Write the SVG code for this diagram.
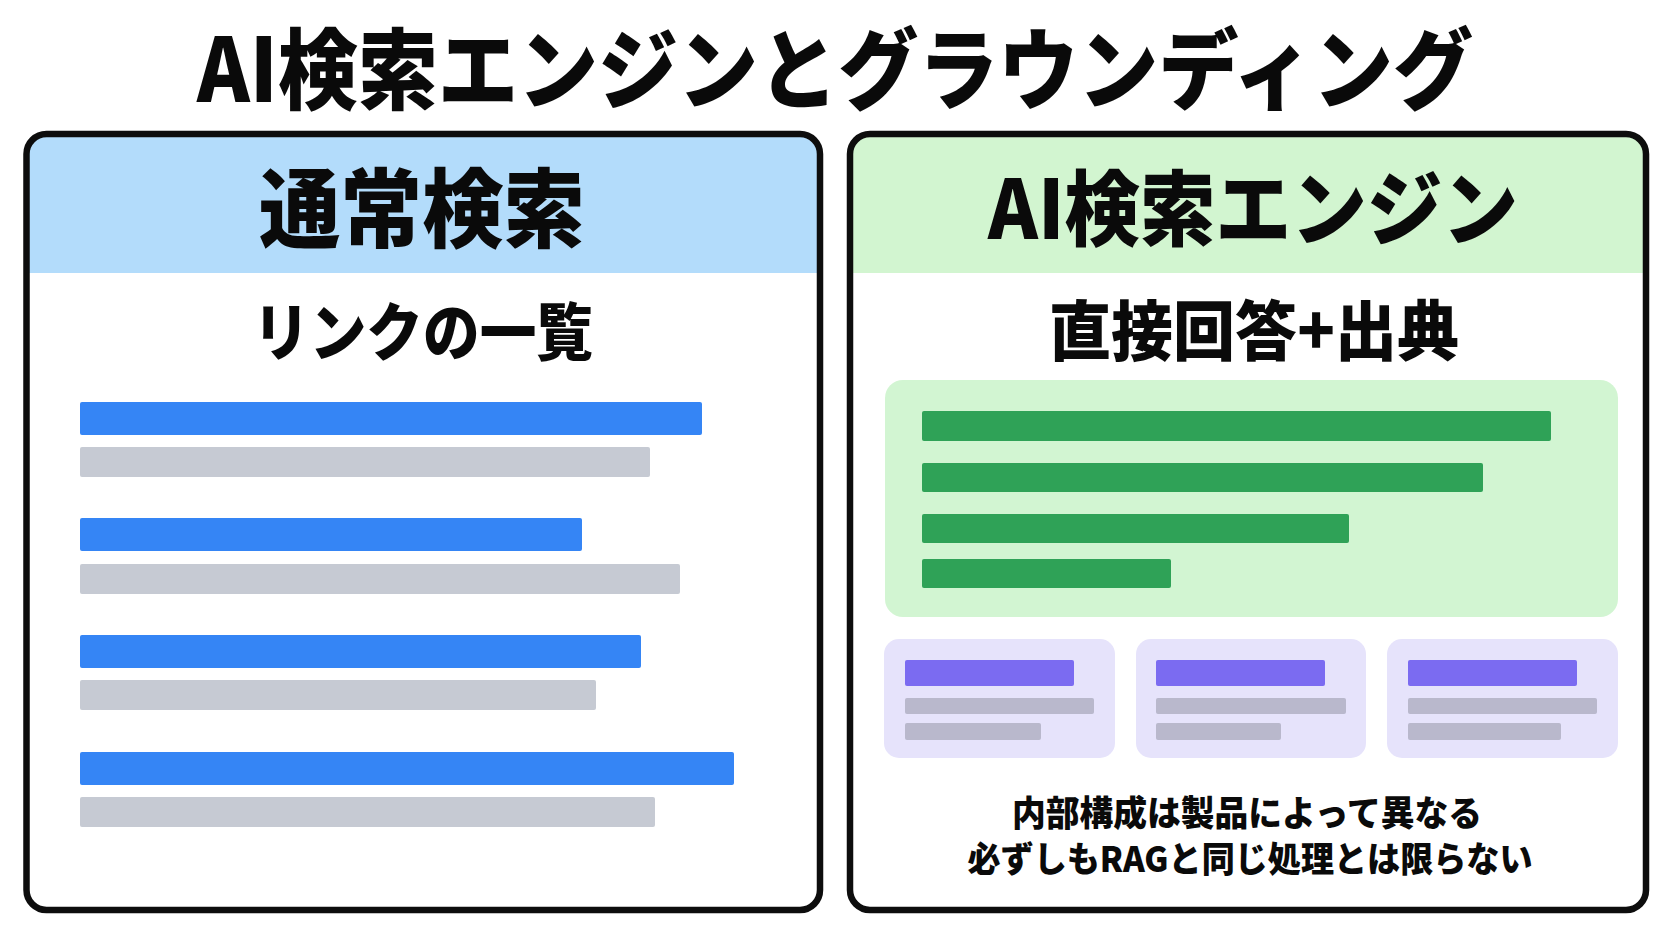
<svg xmlns="http://www.w3.org/2000/svg" width="1672" height="941" viewBox="0 0 1672 941">
<style>
.t{font-family:"Noto Sans CJK JP","Noto Sans",sans-serif;font-weight:900;fill:#0a0a0a;text-anchor:middle}
.frame{fill:none;stroke:#0d0d0d;stroke-width:6.5}
.blue{fill:#3585f5}
.gray{fill:#c6cad3}
.green{fill:#2fa257}
.purple{fill:#7b6bf1}
.cgray{fill:#b9b8cc}
.card{fill:#e6e3fb}
</style>
<rect width="1672" height="941" fill="#ffffff"/>
<text id="title" class="t" x="835" y="102" font-size="88" textLength="1276" lengthAdjust="spacingAndGlyphs">AI検索エンジンとグラウンディング</text>

<g id="panel-normal">
<rect x="26.5" y="134" width="793.5" height="776" rx="20" fill="#ffffff"/>
<path d="M26.5,273 V154 A20,20 0 0 1 46.5,134 H800 A20,20 0 0 1 820,154 V273 Z" fill="#b3dcfb"/>
<rect class="frame" x="26.5" y="134" width="793.5" height="776" rx="20"/>
<text class="t" x="422" y="241" font-size="86" textLength="326" lengthAdjust="spacingAndGlyphs">通常検索</text>
<text class="t" x="423" y="355" font-size="63" textLength="340" lengthAdjust="spacingAndGlyphs">リンクの一覧</text>
<rect class="blue" x="80" y="402" width="622" height="33" rx="2"/>
<rect class="gray" x="80" y="447" width="570" height="30" rx="2"/>
<rect class="blue" x="80" y="518" width="502" height="33" rx="2"/>
<rect class="gray" x="80" y="564" width="600" height="30" rx="2"/>
<rect class="blue" x="80" y="635" width="561" height="33" rx="2"/>
<rect class="gray" x="80" y="680" width="516" height="30" rx="2"/>
<rect class="blue" x="80" y="752" width="654" height="33" rx="2"/>
<rect class="gray" x="80" y="797" width="575" height="30" rx="2"/>
</g>

<g id="panel-ai">
<rect x="850" y="134" width="796" height="776" rx="20" fill="#ffffff"/>
<path d="M850,273 V154 A20,20 0 0 1 870,134 H1626 A20,20 0 0 1 1646,154 V273 Z" fill="#d2f5d0"/>
<rect class="frame" x="850" y="134" width="796" height="776" rx="20"/>
<text class="t" x="1253" y="239" font-size="82" textLength="530" lengthAdjust="spacingAndGlyphs">AI検索エンジン</text>
<text class="t" x="1254" y="355" font-size="65" textLength="410" lengthAdjust="spacingAndGlyphs">直接回答+出典</text>
<g id="answer">
<rect x="885" y="380" width="733" height="237" rx="18" fill="#d2f5d2"/>
<rect class="green" x="922" y="411" width="629" height="30" rx="2"/>
<rect class="green" x="922" y="463" width="561" height="29" rx="2"/>
<rect class="green" x="922" y="514" width="427" height="29" rx="2"/>
<rect class="green" x="922" y="559" width="249" height="29" rx="2"/>
</g>
<g id="source1">
<rect class="card" x="884" y="639" width="231" height="119" rx="15"/>
<rect class="purple" x="905" y="660" width="169" height="26" rx="2"/>
<rect class="cgray" x="905" y="698" width="189" height="16" rx="2"/>
<rect class="cgray" x="905" y="723" width="136" height="17" rx="2"/>
</g>
<g id="source2">
<rect class="card" x="1136" y="639" width="230" height="119" rx="15"/>
<rect class="purple" x="1156" y="660" width="169" height="26" rx="2"/>
<rect class="cgray" x="1156" y="698" width="190" height="16" rx="2"/>
<rect class="cgray" x="1156" y="723" width="125" height="17" rx="2"/>
</g>
<g id="source3">
<rect class="card" x="1387" y="639" width="231" height="119" rx="15"/>
<rect class="purple" x="1408" y="660" width="169" height="26" rx="2"/>
<rect class="cgray" x="1408" y="698" width="189" height="16" rx="2"/>
<rect class="cgray" x="1408" y="723" width="153" height="17" rx="2"/>
</g>
<text class="t" x="1247" y="826" font-size="35" textLength="470" lengthAdjust="spacingAndGlyphs">内部構成は製品によって異なる</text>
<text class="t" x="1250" y="872" font-size="35" textLength="565" lengthAdjust="spacingAndGlyphs">必ずしもRAGと同じ処理とは限らない</text>
</g>
<g id="connectors"/>
</svg>
